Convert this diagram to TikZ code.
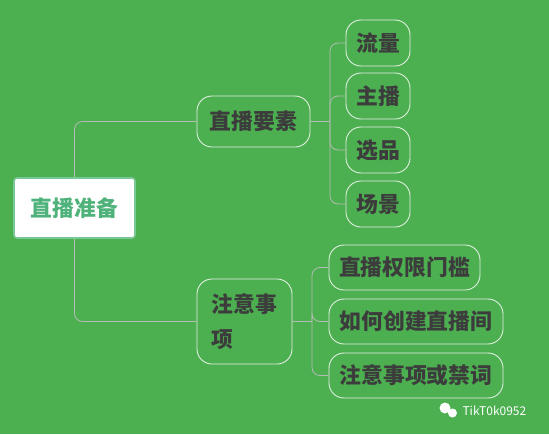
\documentclass[tikz,border=0pt]{standalone}
\usepackage{fontspec}
\newfontfamily\cjk{Noto Sans CJK SC}
\definecolor{bg}{RGB}{76,175,80}
\definecolor{rootline}{RGB}{120,200,150}
\definecolor{roottext}{RGB}{78,178,122}
\definecolor{boxline}{RGB}{225,240,225}
\definecolor{darktext}{RGB}{60,60,60}
\definecolor{linkgray}{RGB}{180,188,180}

\begin{document}
\begin{tikzpicture} [x=1pt, y=-1pt,
    every node/.style={font=\cjk\bfseries\fontsize{21.8}{26}\selectfont},
    rootbox/.style={draw=rootline, line width=1.6pt, fill=white, text=roottext,
        rounded corners=3pt, minimum width=121pt, minimum height=60pt},
    topicbox/.style={draw=boxline, line width=0.9pt, text=darktext,
        rounded corners=15pt, inner xsep=9pt, minimum height=46pt},
    link/.style={draw=linkgray, line width=0.8pt, rounded corners=8pt},]
\fill[bg] (0,0) rectangle (549,434);

\node[rootbox] (prep) at (74.5,208) {直播准备};

% first branch
\node[topicbox, minimum width=113pt, minimum height=51pt] (elem) at (253.5,121.5) {直播要素};
\node[topicbox, minimum width=64pt] (flow)  at (378,43)  {流量};
\node[topicbox, minimum width=64pt] (host)  at (378,96)  {主播};
\node[topicbox, minimum width=64pt] (pick)  at (378,150) {选品};
\node[topicbox, minimum width=64pt] (scene) at (378,204) {场景};

% second branch
\node[topicbox, minimum width=95pt, minimum height=85pt, align=left,
    font=\cjk\bfseries\fontsize{21.8}{35}\selectfont] (note) at (244.5,321.5) {注意事\\项};
\node[topicbox, minimum width=151pt, minimum height=45pt] (perm)  at (404.5,267.5) {直播权限门槛};
\node[topicbox, minimum width=174pt, minimum height=45pt] (room)  at (416,321.5) {如何创建直播间};
\node[topicbox, minimum width=174pt, minimum height=45pt] (taboo) at (416,375.5) {注意事项或禁词};

% connectors
\draw[link] (prep.north) |- (elem.west);
\draw[link] (prep.south) |- (note.west);
\coordinate (elemfork) at (330,121.5);
\coordinate (notefork) at (312,321.5);
\draw[link] (elem.east) -- (elemfork);
\draw[link] (note.east) -- (notefork);
\foreach \n in {flow,host,pick,scene}
    \draw[link] (elemfork) |- (\n.west);
\foreach \n in {perm,room,taboo}
    \draw[link] (notefork) |- (\n.west);

% watermark
\fill[white] (445,408) circle (5.5);
\fill[white] (452.5,413) circle (4.5);
\node[anchor=west, text=white, font=\cjk\fontsize{12}{14}\selectfont] (mark) at (459,411) {TikT0k0952};
\end{tikzpicture}
\end{document}
